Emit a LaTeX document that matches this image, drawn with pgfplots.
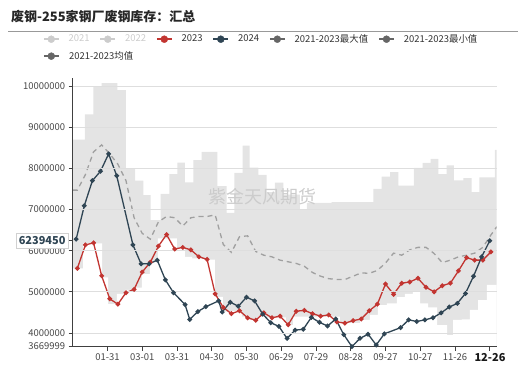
\documentclass[border=0pt]{standalone}
\usepackage{fontspec}
\setmainfont{Noto Sans CJK SC}
\usepackage{pgfplots}
\pgfplotsset{compat=1.18}
\definecolor{c23}{HTML}{C23531}
\definecolor{c24}{HTML}{2F4554}
\definecolor{bandc}{HTML}{E4E4E4}
\definecolor{gridc}{HTML}{DEDEDE}
\definecolor{meanc}{HTML}{A0A0A0}
\definecolor{legg}{HTML}{666666}
\definecolor{legd}{HTML}{CCCCCC}
\definecolor{txt}{HTML}{333333}
\begin{document}
\begin{tikzpicture}
\useasboundingbox (0bp,0bp) rectangle (523bp,368bp);
\node[anchor=west, font=\fontsize{13}{15}\selectfont\bfseries, text=black!85, inner sep=0pt] at (11bp,351bp) {废钢-255家钢厂废钢库存：汇总};
\draw[black!40, line width=0.8bp] (8bp,337bp) -- (518bp,337bp);
\begin{axis}[
  at={(72.7bp,21.4bp)}, anchor=south west,
  scale only axis, width=424bp, height=268.6bp,
  xmin=0, xmax=366, ymin=3669999, ymax=10194000,
  axis x line*=bottom, axis y line*=left,
  axis line style={black!75, line width=0.8bp},
  axis on top,
  tick align=outside, major tick length=4bp,
  tick style={black!75, line width=0.8bp},
  ymajorgrids, grid style={gridc, line width=0.7bp},
  scaled y ticks=false, scaled x ticks=false,
  ytick={3669999,4000000,5000000,6000000,7000000,8000000,9000000,10000000},
  yticklabels={3669999,4000000,5000000,6000000,7000000,8000000,9000000,10000000},
  xtick={30,60,90,120,150,180,210,240,270,300,330,360},
  xticklabels={01-31,03-01,03-31,04-30,05-30,06-29,07-29,08-28,09-27,10-27,11-26,},
  tick label style={font=\fontsize{9.5}{11}\selectfont, text=black!72},
  extra y ticks={6239450}, extra y tick labels={\textbf{6239450}},
  extra y tick style={ymajorgrids=false, yticklabel style={fill=white, draw=black!18, text=c24, inner xsep=3bp, inner ysep=3bp, font=\fontsize{11}{12}\selectfont}},
  legend columns=6,
  legend cell align=left,
  legend style={at={(-0.070,1.162)}, anchor=north west, draw=none, fill=none,
    inner sep=0pt, outer sep=0pt, row sep=7.5bp,
    font=\fontsize{9.5}{11}\selectfont,
    nodes={inner sep=0pt, text=txt},
    /tikz/every odd column/.append style={column sep=9bp},
    /tikz/every even column/.append style={column sep=10bp}},
  legend image code/.code={\draw[#1, line width=1.5bp] (0bp,0bp) -- (15bp,0bp); \fill[#1] (7.5bp,0bp) circle (3.5bp);},
]
\addlegendimage{legd}\addlegendentry{\textcolor{legd}{2021}}
\addlegendimage{legd}\addlegendentry{\textcolor{legd}{2022}}
\addlegendimage{c23}\addlegendentry{2023}
\addlegendimage{c24}\addlegendentry{2024}
\addlegendimage{legg}\addlegendentry{2021-2023最大值}
\addlegendimage{legg}\addlegendentry{2021-2023最小值}
\addlegendimage{legg}\addlegendentry{\makebox[0pt][l]{2021-2023均值}}

\addplot[draw=none, fill=bandc, const plot, forget plot] coordinates {
(0,8700000) (10.6,9310000) (17.8,9970000) (25.0,10070000) (38.5,9900000) (46.0,7980000)
(53.8,7700000) (60.9,7350000) (67.3,6740000) (76.0,7380000) (83.4,7860000) (90.3,8140000)
(96.9,7660000) (104.1,8200000) (111.3,8400000) (124.8,7570000) (132.9,6920000) (139.5,7890000)
(146.7,8550000) (152.7,8020000) (160.2,7840000) (167.5,7420000) (174.6,7650000) (181.8,7360000)
(196.2,7000000) (202.2,7160000) (223.6,7180000) (259.5,7500000) (266.7,7800000) (273.9,7910000)
(281.1,7580000) (294.6,8010000) (302.1,8130000) (309.0,8230000) (315.6,7860000) (322.8,8070000)
(329.1,7710000) (337.2,7760000) (344.4,7420000) (351.0,7780000) (364.5,8450000) (366,8450000)} \closedcycle;
\addplot[draw=none, fill=white, const plot, forget plot] coordinates {
(0,5570000) (8.9,6180000) (25.3,5350000) (30.5,4700000) (38.2,4950000) (45.1,5050000)
(52.0,5100000) (59.8,5430000) (66.7,5730000) (73.6,6300000) (90.0,6060000) (96.9,5850000)
(103.0,5810000) (116.8,5780000) (122.8,4880000) (129.7,4520000) (137.5,4540000) (146.1,4400000)
(152.7,4320000) (159.9,4400000) (166.9,4380000) (184.1,4190000) (190.2,4400000) (230.7,4240000)
(248.0,4320000) (256.6,4440000) (263.5,4680000) (271.3,4720000) (279.9,4870000) (286.8,4950000)
(293.7,5000000) (299.8,4720000) (306.7,4620000) (314.5,4190000) (323.1,3950000) (328.3,4320000)
(336.0,4330000) (342.9,4560000) (349.9,4800000) (357.6,5170000) (366,5170000)} \closedcycle;

\addplot[meanc, line width=1.3bp, dash pattern=on 5bp off 4bp, forget plot] coordinates {
(0,7470000) (4,7470000) (11,7850000) (18,8400000) (25,8570000) (32,8350000) (39,8100000)
(46,7700000) (53,6800000) (60,6420000) (67,6280000) (74,6700000) (81,6830000) (88,6800000)
(95,6600000) (102,6800000) (109,6830000) (116,6830000) (123,6870000) (130,6150000) (137,5960000)
(144,6340000) (151,6360000) (158,5980000) (165,5890000) (172,5850000) (179,5770000) (186,5730000)
(193,5690000) (200,5620000) (207,5470000) (214,5380000) (221,5320000) (228,5300000) (235,5300000)
(242,5380000) (249,5460000) (256,5450000) (263,5520000) (270,5700000) (277,5940000) (284,5890000)
(291,6020000) (298,6080000) (305,6080000) (312,5930000) (319,5710000) (326,5770000) (333,5850000)
(340,5890000) (347,5940000) (354,6080000) (361,6380000) (366,6580000)};

\addplot[c23, line width=1.3bp, mark=*, mark size=1.7bp, mark options={solid}, forget plot] coordinates {
(4,5570000) (11,6140000) (18,6190000) (25,5390000) (32,4830000) (39,4700000) (46,4980000)
(53,5060000) (60,5480000) (67,5720000) (74,6110000) (81,6390000) (88,6040000) (95,6080000)
(102,6020000) (109,5850000) (116,5790000) (123,4950000) (130,4620000) (137,4470000) (144,4540000)
(151,4370000) (158,4310000) (165,4490000) (172,4370000) (179,4410000) (186,4200000) (193,4530000)
(200,4550000) (207,4470000) (214,4410000) (221,4440000) (228,4270000) (235,4240000) (242,4300000)
(249,4340000) (256,4540000) (263,4700000) (270,5190000) (277,4940000) (284,5210000) (291,5240000)
(298,5330000) (305,5110000) (312,5000000) (319,5150000) (326,5210000) (333,5510000) (340,5830000)
(347,5770000) (354,5770000) (361,5970000)};

\addplot[c24, line width=1.3bp, mark=*, mark size=1.7bp, mark options={solid}, forget plot] coordinates {
(3,6280000) (10,7090000) (17,7700000) (24,7930000) (31,8350000) (38,7820000) (52,6140000)
(59,5680000) (66,5680000) (73,5770000) (80,5290000) (87,4980000) (97,4690000) (101,4330000)
(108,4520000) (115,4640000) (126,4780000) (129,4510000) (136,4750000) (143,4650000) (150,4870000)
(157,4780000) (164,4460000) (171,4250000) (178,4160000) (185,3870000) (192,4070000) (199,4090000)
(206,4380000) (213,4260000) (220,4170000) (227,4340000) (234,3960000) (241,3670000) (248,3870000)
(255,3970000) (262,3710000) (269,3980000) (283,4130000) (290,4320000) (297,4280000) (304,4320000)
(311,4370000) (318,4490000) (325,4630000) (332,4720000) (339,4960000) (346,5380000) (353,5850000)
(360,6239450)};
\end{axis}
\node[font=\fontsize{11}{12}\selectfont\bfseries, text=black!90, fill=white, inner xsep=5bp, inner ysep=1bp] at (490bp,10.3bp) {12-26};
\node[font=\fontsize{18}{20}\selectfont, text=black!20] at (262.5bp,171bp) {紫金天风期货};
\end{tikzpicture}
\end{document}
